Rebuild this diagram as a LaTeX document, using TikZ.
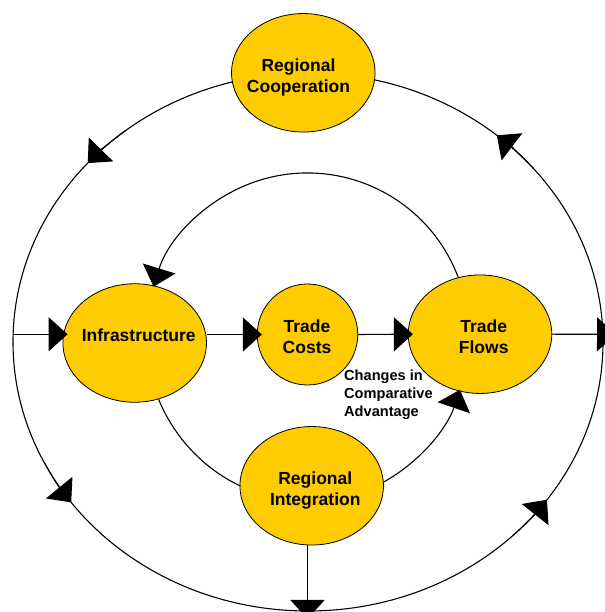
\documentclass[tikz,border=0pt]{standalone}
\usepackage{fontspec}
\setmainfont{Liberation Sans}
\usetikzlibrary{shapes.geometric,arrows.meta}
\definecolor{gold}{HTML}{FFCC00}

\begin{document}
\begin{tikzpicture}[x=1pt,y=1pt,
    hub/.style={ellipse,draw,line width=.8pt,fill=gold,inner sep=0pt,
        minimum width=143.5pt,minimum height=118.5pt},
    word/.style={font=\fontsize{17.5}{21}\selectfont\bfseries,align=center},
    flow/.style={line width=1.1pt,-{Triangle[length=19pt,width=34pt]}},
    push/.style={flow,shorten >=-5pt}]

\useasboundingbox (0,0) rectangle (604,612);

%% outer ring
    \coordinate (O) at (308,270);
    \draw[line width=1.1pt] (O) ellipse [x radius=295,y radius=269];
    \coordinate (rimW) at (13,277.7);
    \coordinate (rimE) at (616,277.7);
    \coordinate (rimS) at (307.5,-7);

%% hubs
    \node[hub,label={[word,shift={(-4.8,-4.5)}]center:Regional\\Cooperation}] (RC) at (303.3,539.2) {};
    \node[hub,label={[word,shift={(4,8)}]center:Infrastructure}] (Infra) at (134.7,269) {};
    \node[hub,minimum width=100.5pt,minimum height=101pt,
        label={[word,shift={(-0.5,-2.5)}]center:Trade\\Costs}] (TC) at (307.5,277.5) {};
    \node[hub,label={[word,shift={(3.7,-2.8)}]center:Trade\\Flows}] (TF) at (480,277.8) {};
    \node[hub,label={[word,shift={(3.6,-4.8)}]center:Regional\\Integration}] (RI) at (311.7,126.2) {};
    \node[anchor=west,align=left,inner sep=0pt,font=\fontsize{14.6}{17.7}\selectfont\bfseries]
        (CCA) at (344,217.2) {Changes in\\Comparative\\Advantage};

%% middle row
    \draw[push] (rimW) -- (rimW -| Infra.west);
    \draw[push] (Infra.east |- TC) -- (TC.west);
    \draw[push] (TC.east) -- (TF.west);
    \draw[flow] (TF.east) -- (rimE);
    \draw[flow] (RI.south -| rimS) -- (rimS);

%% inner ring
    \draw[flow] (TF.111) arc[start angle=20.6,end angle=162.9,radius=161];
    \draw[line width=1.1pt] (Infra.-67.5) arc[start angle=203.2,end angle=245.5,x radius=162,y radius=168];
    \draw[flow] (RI.3) arc[start angle=298.2,end angle=340.6,x radius=162,y radius=168];

%% heads on the outer ring
    \draw[flow] (O) ++(128.3:295 and 269) arc[start angle=128.3,end angle=138.3,x radius=295,y radius=269];
    \draw[flow] (O) ++(40.2:295 and 269) arc[start angle=40.2,end angle=50.2,x radius=295,y radius=269];
    \draw[flow] (O) ++(206.6:295 and 269) arc[start angle=206.6,end angle=216.6,x radius=295,y radius=269];
    \draw[flow] (O) ++(314.1:295 and 269) arc[start angle=314.1,end angle=324.1,x radius=295,y radius=269];

\end{tikzpicture}
\end{document}
